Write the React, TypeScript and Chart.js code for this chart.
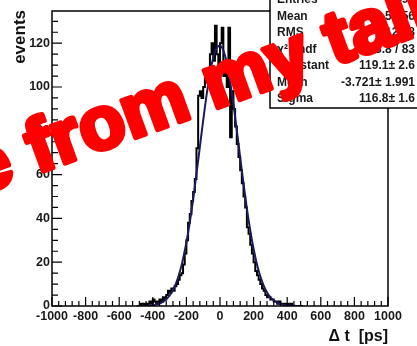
import React, { useEffect, useRef } from "react";
import { Chart, registerables } from "chart.js";
Chart.register(...registerables);

// Histogram: 10 ps bins starting at -500 ps
const BIN_START = -500;
const BIN_WIDTH = 10;
const COUNTS = [
  0, 0, 0, 1, 0, 1, 0, 1, 2, 1,
  3, 2, 1, 2, 3, 2, 4, 3, 5, 7,
  6, 8, 7, 9, 10, 12, 14, 15, 19, 24,
  30, 38, 42, 48, 52, 58, 72, 96, 98, 95,
  100, 104, 102, 108, 115, 120, 112, 128, 115, 110,
  120, 127, 105, 112, 100, 127, 77, 98, 90, 82,
  74, 68, 62, 56, 50, 45, 36, 33, 28, 24,
  20, 16, 14, 12, 10, 8, 7, 5, 4, 4,
  3, 3, 2, 2, 1, 2, 1, 1, 0, 1,
  1, 0, 1, 0, 0, 0, 0, 0, 0, 0,
];

// Gaussian fit curve sampled every 25 ps
const FIT_X = [
  -450, -425, -400, -375, -350, -325, -300, -275, -250, -225,
  -200, -175, -150, -125, -100, -75, -50, -25, 0, 25,
  50, 75, 100, 125, 150, 175, 200, 225, 250, 275,
  300, 325, 350, 375, 400, 425, 450,
];
const FIT_Y = [
  0.08, 0.18, 0.38, 0.76, 1.47, 2.71, 4.78, 8.04, 12.9, 19.8,
  29.0, 40.6, 54.4, 69.5, 84.8, 98.9, 110.1, 117.1, 119.0, 115.6,
  107.2, 94.9, 80.3, 64.9, 50.1, 36.9, 26.0, 17.5, 11.3, 6.9,
  4.05, 2.27, 1.21, 0.62, 0.30, 0.14, 0.06,
];

const X_MIN = -1000;
const X_MAX = 1000;
const X_MAJOR = 200;
const X_MINOR = 40;
const Y_MIN = 0;
const Y_MAX = 134.7;
const Y_MAJOR = 20;
const Y_MINOR = 5;

const STATS_LABELS = ["Entries", "Mean", "RMS", "\u03c7\u00b2 / ndf", "Constant", "Mean", "Sigma"];
const STATS_VALUES = ["3495", "-5.156", "121.8", "113.8 / 83", "119.1\u00b1 2.6", "-3.721\u00b1 1.991", "116.8\u00b1 1.6"];

const X_TITLE = "\u0394 t  [ps]";
const Y_TITLE = "events";
const WATERMARK = "e from my talk";

const FONT = "'Liberation Sans', Arial, Helvetica, sans-serif";

const decorPlugin = {
  id: "decor",
  afterDraw(chart: any) {
    const { ctx, chartArea: a, scales } = chart;
    const xs = scales.x;
    const ys = scales.y;
    ctx.save();
    // frame
    ctx.strokeStyle = "#000";
    ctx.lineWidth = 1.5;
    ctx.strokeRect(a.left, a.top, a.right - a.left, a.bottom - a.top);
    // inward ticks
    ctx.lineWidth = 1.2;
    ctx.beginPath();
    for (let v = X_MIN; v <= X_MAX + 0.001; v += X_MINOR) {
      const px = xs.getPixelForValue(v);
      const len = Math.abs(v % X_MAJOR) < 0.001 ? 9 : 5;
      ctx.moveTo(px, a.bottom);
      ctx.lineTo(px, a.bottom - len);
    }
    for (let v = Y_MIN; v <= Y_MAX; v += Y_MINOR) {
      const py = ys.getPixelForValue(v);
      const len = Math.abs(v % Y_MAJOR) < 0.001 ? 10 : 6;
      ctx.moveTo(a.left, py);
      ctx.lineTo(a.left + len, py);
    }
    ctx.stroke();

    // axis titles
    ctx.fillStyle = "#111";
    ctx.font = `bold 16px ${FONT}`;
    ctx.textAlign = "right";
    ctx.textBaseline = "middle";
    ctx.fillText(X_TITLE, a.right, 337);
    ctx.save();
    ctx.translate(20, a.top - 1);
    ctx.rotate(-Math.PI / 2);
    ctx.font = `bold 17px ${FONT}`;
    ctx.textAlign = "right";
    ctx.fillText(Y_TITLE, 0, 0);
    ctx.restore();

    // stats box
    const bx = 270;
    const by = -12;
    const bw = 160;
    const bh = 108 - by;
    ctx.fillStyle = "#fff";
    ctx.fillRect(bx, by, bw, bh);
    ctx.strokeStyle = "#000";
    ctx.lineWidth = 1.5;
    ctx.strokeRect(bx, by, bw, bh);
    ctx.fillStyle = "#1a1a1a";
    ctx.font = `bold 12px ${FONT}`;
    ctx.textBaseline = "middle";
    const rowH = 16.5;
    const row0 = 0;
    STATS_LABELS.forEach((lab, i) => {
      const y = row0 + i * rowH;
      ctx.textAlign = "left";
      ctx.fillText(lab, 277, y);
      ctx.textAlign = "right";
      ctx.fillText(STATS_VALUES[i], 415, y);
    });

    // watermark
    ctx.save();
    ctx.translate(-22, 195);
    ctx.rotate((-20 * Math.PI) / 180);
    ctx.fillStyle = "#ff0000";
    ctx.strokeStyle = "#ff0000";
    ctx.lineWidth = 5;
    ctx.lineJoin = "round";
    ctx.font = `bold 75px ${FONT}`;
    ctx.textAlign = "left";
    ctx.textBaseline = "alphabetic";
    ctx.fillText(WATERMARK, 0, 0);
    ctx.strokeText(WATERMARK, 0, 0);
    ctx.restore();

    ctx.restore();
  },
};

export default function App() {
  const ref = useRef<HTMLCanvasElement | null>(null);
  useEffect(() => {
    document.body.style.margin = "0";
    const histData = COUNTS.map((c, i) => ({ x: BIN_START + BIN_WIDTH * (i + 0.5), y: c }));
    const fitData = FIT_X.map((x, i) => ({ x, y: FIT_Y[i] }));
    const chart = new Chart(ref.current as HTMLCanvasElement, {
      type: "line",
      data: {
        datasets: [
          {
            data: fitData,
            borderColor: "#1b1b5e",
            borderWidth: 2,
            pointRadius: 0,
            cubicInterpolationMode: "monotone",
            fill: false,
            order: 0,
          },
          {
            data: histData,
            borderColor: "#000",
            borderWidth: 2,
            pointRadius: 0,
            stepped: "middle",
            fill: false,
            order: 1,
          },
        ],
      },
      options: {
        animation: false,
        responsive: false,
        events: [],
        layout: { padding: { top: 11, right: 29, left: 0, bottom: 0 } },
        plugins: { legend: { display: false }, tooltip: { enabled: false }, title: { display: false } },
        scales: {
          x: {
            type: "linear",
            min: X_MIN,
            max: X_MAX,
            grid: { display: false, drawTicks: false },
            border: { display: false },
            ticks: {
              stepSize: X_MAJOR,
              includeBounds: false,
              maxRotation: 0,
              autoSkip: false,
              padding: 3,
              color: "#1a1a1a",
              font: { family: FONT, size: 12.5, weight: "bold" },
              callback: (v: any) => String(v),
            },
            afterFit: (s: any) => {
              s.height = 40;
            },
          },
          y: {
            type: "linear",
            min: Y_MIN,
            max: Y_MAX,
            grid: { display: false, drawTicks: false },
            border: { display: false },
            ticks: {
              stepSize: Y_MAJOR,
              includeBounds: false,
              autoSkip: false,
              padding: 2,
              color: "#1a1a1a",
              font: { family: FONT, size: 12.5, weight: "bold" },
              callback: (v: any) => String(v),
            },
            afterFit: (s: any) => {
              s.width = 52;
            },
          },
        },
      },
      plugins: [decorPlugin],
    });
    return () => chart.destroy();
  }, []);
  return <canvas ref={ref} width={417} height={346} style={{ display: "block" }} />;
}
